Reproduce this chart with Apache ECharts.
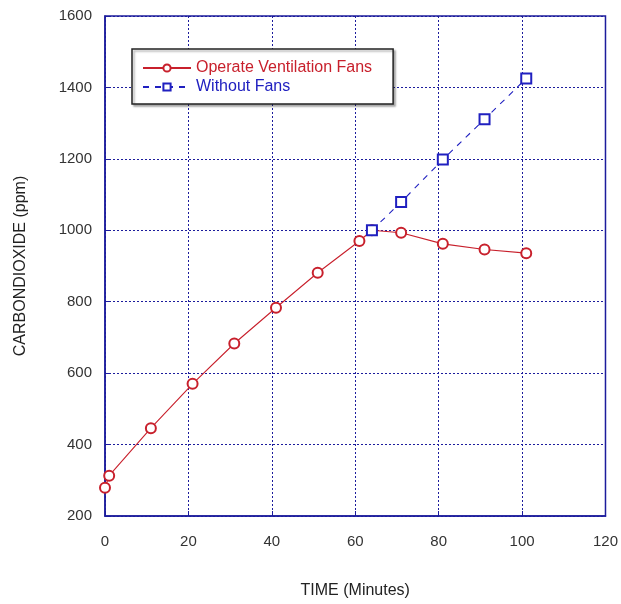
<!DOCTYPE html>
<html>
<head>
<meta charset="utf-8">
<script src="https://cdn.jsdelivr.net/npm/echarts@6/dist/echarts.min.js"></script>
<style>
  html, body { margin: 0; padding: 0; background: #fff; }
  #chart { width: 621px; height: 604px; }
</style>
</head>
<body>
<div id="chart"></div>
<script>
// data
var fanTime = [0, 1, 11, 21, 31, 41, 51, 61, 64, 71, 81, 91, 101];
var fanCO2 = [279, 313, 446, 570, 683, 783, 881, 970, 1000, 993, 962, 946, 936];
var noFanTime = [64, 71, 81, 91, 101];
var noFanCO2 = [1000, 1079, 1198, 1311, 1425];
var xTicks = [0, 20, 40, 60, 80, 100, 120];
var yTicks = [200, 400, 600, 800, 1000, 1200, 1400, 1600];

var navy = '#1c1c9c';
var red = '#c8202c';
var blue = '#2020c0';

function pairs(xs, ys) {
  var out = [];
  for (var i = 0; i < xs.length; i++) out.push([xs[i], ys[i]]);
  return out;
}

var myChart = echarts.init(document.getElementById('chart'));
var option = {
  backgroundColor: '#fff',
  animation: false,
  textStyle: { fontFamily: 'Liberation Sans, Arial, sans-serif' },
  grid: {
    left: 105, right: 15, top: 16, bottom: 87,
    show: true, borderColor: navy, borderWidth: 1.5
  },
  legend: {
    orient: 'vertical',
    left: 132, top: 49,
    padding: [11, 21, 9, 10],
    itemWidth: 48, itemHeight: 9, itemGap: 3,
    backgroundColor: '#fff',
    borderColor: '#222', borderWidth: 1.5,
    shadowColor: 'rgba(0,0,0,0.3)', shadowOffsetX: 2, shadowOffsetY: 2, shadowBlur: 2,
    textStyle: { fontSize: 16, fontFamily: 'Liberation Sans, Arial, sans-serif' },
    data: [
      { name: 'Operate Ventilation Fans', textStyle: { color: red } },
      { name: 'Without Fans', textStyle: { color: blue } }
    ]
  },
  xAxis: {
    type: 'value',
    min: xTicks[0], max: xTicks[xTicks.length - 1], interval: 20,
    name: 'TIME (Minutes)',
    nameLocation: 'middle', nameGap: 67,
    nameTextStyle: { fontSize: 16, color: '#222' },
    axisLine: { lineStyle: { color: navy, width: 1.5 } },
    axisTick: { inside: true, length: 5, lineStyle: { color: navy } },
    axisLabel: { fontSize: 15, color: '#333', margin: 18 },
    splitLine: { show: true, lineStyle: { color: navy, type: [2, 2], width: 1 } }
  },
  yAxis: {
    type: 'value',
    min: yTicks[0], max: yTicks[yTicks.length - 1], interval: 200,
    name: 'CARBONDIOXIDE (ppm)',
    nameLocation: 'middle', nameGap: 76,
    nameTextStyle: { fontSize: 16, color: '#222' },
    axisLine: { show: true, lineStyle: { color: navy, width: 1.5 } },
    axisTick: { show: true, inside: true, length: 5, lineStyle: { color: navy } },
    axisLabel: { fontSize: 15, color: '#333', margin: 13, formatter: function (v) { return String(v); } },
    splitLine: { show: true, lineStyle: { color: navy, type: [2, 2], width: 1 } }
  },
  series: [
    {
      name: 'Operate Ventilation Fans',
      type: 'line',
      data: pairs(fanTime, fanCO2),
      symbol: 'emptyCircle', symbolSize: 10,
      itemStyle: { color: red, borderWidth: 1.3 },
      lineStyle: { color: red, width: 1.1 },
      z: 2
    },
    {
      name: 'Without Fans',
      type: 'line',
      data: pairs(noFanTime, noFanCO2),
      symbol: 'emptyRect', symbolSize: 10,
      itemStyle: { color: blue, borderWidth: 1.3 },
      lineStyle: { color: blue, width: 1.1, type: [6, 6] },
      z: 3
    }
  ]
};
myChart.setOption(option);
</script>
</body>
</html>
